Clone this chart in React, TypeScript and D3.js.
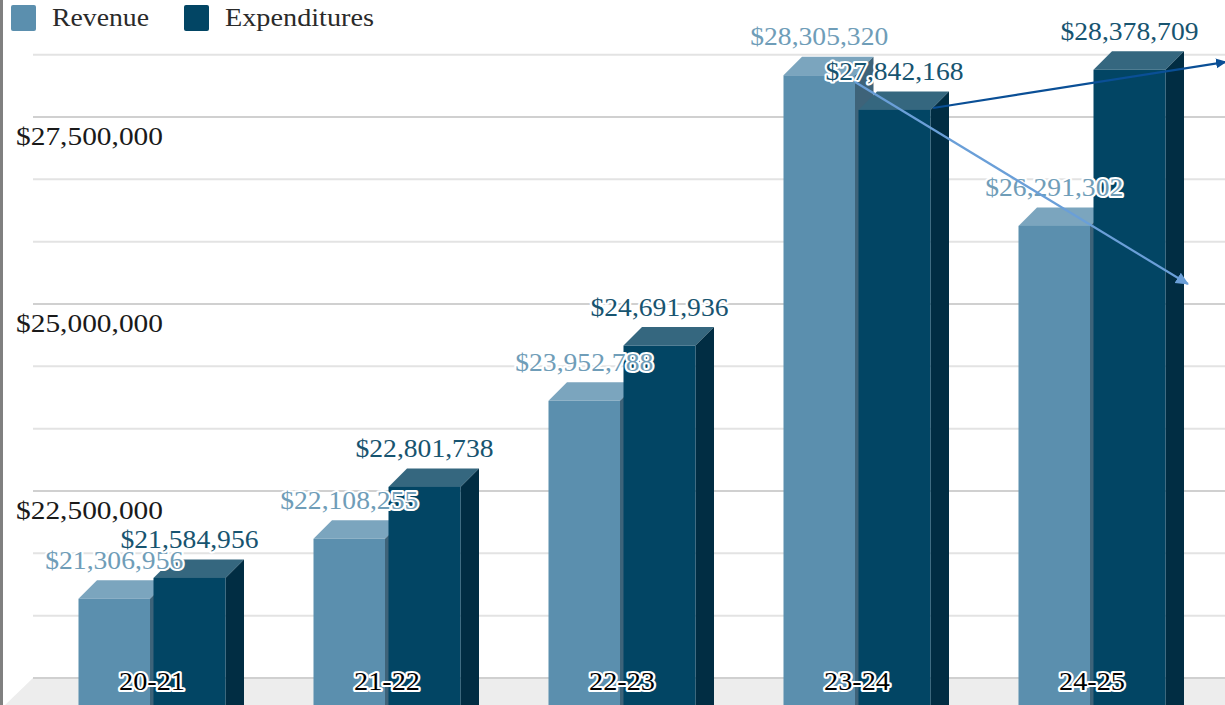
import * as d3 from 'd3';

const categories = ['20-21', '21-22', '22-23', '23-24', '24-25'];
const seriesNames = ['Revenue', 'Expenditures'];
const revenue = [21306956, 22108255, 23952788, 28305320, 26291302];
const expenditures = [21584956, 22801738, 24691936, 27842168, 28378709];
const majorTicks = [20000000, 22500000, 25000000, 27500000];
const axisLabels = [22500000, 25000000, 27500000];
const minorTicks = [20833333, 21666667, 23333333, 24166667, 25833333, 26666667, 28333333];
// trend arrows: [group position, value]
const revenueTrend: [number, number][] = [[3.306, 27968000], [4.724, 25267000]];
const expenditureTrend: [number, number][] = [[3.638, 27620000], [4.882, 28235000]];

const W = 1225;
const H = 705;
const DEPTH = 18.5;
const FONT = '"Liberation Serif", serif';

const front = ['#5b8fae', '#024564'];
const top = ['#7ba5be', '#35677f'];
const side = ['#3e6379', '#012d43'];
const labelColor = ['#6f9db8', '#175470'];
const barWidths = [71.5, 72];

const y = d3.scaleLinear().domain([20000000, 27500000]).range([678, 117]);
const x0 = d3.scaleBand().domain(categories).range([78.5, 78.5 + 5 * 235]);
const x1 = d3.scaleBand().domain(seriesNames).range([0, 150]);
const xTrend = d3.scaleLinear().domain([0, 4]).range([79, 1018]);
const money = (v: number) => '$' + d3.format(',')(v);
const trendLine = d3.line<[number, number]>().x(d => xTrend(d[0])).y(d => y(d[1]));

function Bar({ x, value, s }: { x: number; value: number; s: number }) {
  const yb = y(value);
  const yf = yb + DEPTH;
  const bw = barWidths[s];
  return (
    <g>
      <polygon
        points={`${x},${yf} ${x + DEPTH},${yb} ${x + bw + DEPTH},${yb} ${x + bw},${yf}`}
        fill={top[s]}
      />
      <polygon
        points={`${x + bw},${yf} ${x + bw + DEPTH},${yb} ${x + bw + DEPTH},${H} ${x + bw},${H}`}
        fill={side[s]}
      />
      <rect x={x} y={yf} width={bw} height={H - yf} fill={front[s]} />
    </g>
  );
}

export default function App() {
  const rows = categories.map((c, i) => ({ c, vals: [revenue[i], expenditures[i]] }));
  return (
    <svg
      width={W}
      height={H}
      style={{ position: 'fixed', left: 0, top: 0, background: '#fff', fontFamily: FONT }}
    >
      <defs>
        <marker id="arrowDark" markerUnits="userSpaceOnUse" markerWidth="12" markerHeight="12" refX="9" refY="6" orient="auto">
          <path d="M0,1 L11,6 L0,11 Z" fill="#0a4f96" />
        </marker>
        <marker id="arrowLight" markerUnits="userSpaceOnUse" markerWidth="14" markerHeight="14" refX="12" refY="7" orient="auto">
          <path d="M0,1 L13,7 L0,13 Z" fill="#6a9fd8" />
        </marker>
      </defs>

      <rect x={0} y={0} width={3} height={H} fill="#808080" />

      {/* floor */}
      <polygon points={`33,${y(20000000)} ${W},${y(20000000)} ${W},${H} 5,${H}`} fill="#ededed" />

      {minorTicks.map(t => (
        <line key={t} x1={33} x2={W} y1={y(t)} y2={y(t)} stroke="#e3e3e3" strokeWidth={2} />
      ))}
      {majorTicks.map(t => (
        <line key={t} x1={33} x2={W} y1={y(t)} y2={y(t)} stroke="#d0d0d0" strokeWidth={2} />
      ))}

      {axisLabels.map(t => (
        <text key={t} x={16} y={y(t) + 28} fontSize={25} fill="#1a1a1a" textLength={147} lengthAdjust="spacingAndGlyphs">
          {money(t)}
        </text>
      ))}

      {rows.map(r =>
        r.vals.map((v, s) => (
          <Bar key={r.c + s} x={x0(r.c)! + x1(seriesNames[s])!} value={v} s={s} />
        ))
      )}

      {rows.map(r =>
        r.vals.map((v, s) => (
          <text
            key={r.c + s}
            x={x0(r.c)! + x1(seriesNames[s])! + barWidths[s] / 2}
            y={y(v) + DEPTH - 30}
            textAnchor="middle"
            fontSize={25}
            fill={labelColor[s]}
            stroke="#fff"
            strokeWidth={4}
            strokeLinejoin="round"
            paintOrder="stroke"
            textLength={138}
            lengthAdjust="spacingAndGlyphs"
          >
            {money(v)}
          </text>
        ))
      )}

      <path d={trendLine(revenueTrend)!} fill="none" stroke="#6a9fd8" strokeWidth={2.2} markerEnd="url(#arrowLight)" />
      <path d={trendLine(expenditureTrend)!} fill="none" stroke="#0a4f96" strokeWidth={2.2} markerEnd="url(#arrowDark)" />

      {categories.map(c => (
        <text
          key={c}
          x={x0(c)! + 73.5}
          y={690}
          textAnchor="middle"
          fontSize={25}
          fill="#000"
          stroke="#fff"
          strokeWidth={4}
          strokeLinejoin="round"
          paintOrder="stroke"
          textLength={66}
          lengthAdjust="spacingAndGlyphs"
        >
          {c}
        </text>
      ))}

      {/* legend */}
      <rect x={11} y={5} width={25} height={26} rx={2} fill={front[0]} />
      <text x={52} y={26} fontSize={25} fill="#2a2a2a" textLength={97} lengthAdjust="spacingAndGlyphs">{seriesNames[0]}</text>
      <rect x={184} y={5} width={25} height={26} rx={2} fill={front[1]} />
      <text x={225} y={26} fontSize={25} fill="#2a2a2a" textLength={149} lengthAdjust="spacingAndGlyphs">{seriesNames[1]}</text>
    </svg>
  );
}
